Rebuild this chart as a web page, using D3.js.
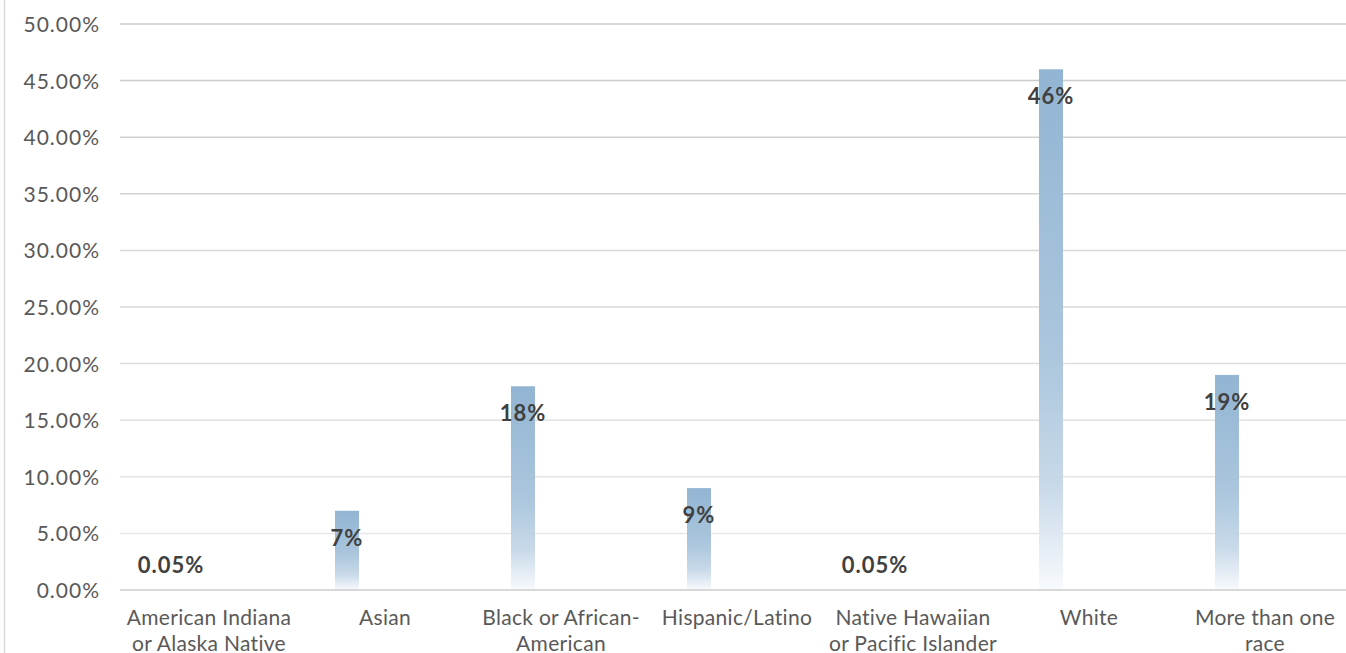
<!DOCTYPE html>
<html>
<head>
<meta charset="utf-8">
<script src="https://cdn.jsdelivr.net/npm/d3@7"></script>
<style>
  html, body { margin: 0; padding: 0; background: #fff; }
  svg { display: block; }
</style>
</head>
<body>
<div id="chart"></div>
<script>
// Data ///////////////////////////////////////////////
const categories = [
  "American Indiana or Alaska Native",
  "Asian",
  "Black or African-American",
  "Hispanic/Latino",
  "Native Hawaiian or Pacific Islander",
  "White",
  "More than one race"
];
const categoryLines = [
  ["American Indiana", "or Alaska Native"],
  ["Asian"],
  ["Black or African-", "American"],
  ["Hispanic/Latino"],
  ["Native Hawaiian", "or Pacific Islander"],
  ["White"],
  ["More than one", "race"]
];
const values = [0.0005, 0.07, 0.18, 0.09, 0.0005, 0.46, 0.19];
const valueLabels = ["0.05%", "7%", "18%", "9%", "0.05%", "46%", "19%"];
const yTicks = [0, 0.05, 0.1, 0.15, 0.2, 0.25, 0.3, 0.35, 0.4, 0.45, 0.5];

// Setup //////////////////////////////////////////////
const width = 1346;
const height = 653;
const font = "Lato, 'DejaVu Sans', sans-serif";

const svg = d3
  .select("#chart")
  .append("svg")
  .attr("width", width)
  .attr("height", height);

const defs = svg.append("defs");
const grad = defs
  .append("linearGradient")
  .attr("id", "barFill")
  .attr("x1", 0)
  .attr("y1", 0)
  .attr("x2", 0)
  .attr("y2", 1);
grad.append("stop").attr("offset", "0%").attr("stop-color", "#92b5d3");
grad.append("stop").attr("offset", "55%").attr("stop-color", "#abc6dd");
grad.append("stop").attr("offset", "80%").attr("stop-color", "#c8d9e9");
grad.append("stop").attr("offset", "100%").attr("stop-color", "#f8fafd");

// Scales /////////////////////////////////////////////
const x = d3.scaleBand().domain(categories).range([121, 1353]).padding(0);
const y = d3.scaleLinear().domain([0, 0.5]).range([590, 24]);
const barWidth = 24;
const barShift = -x.bandwidth() * 0.216; // bar sits left of the band centre

// left frame line
svg
  .append("line")
  .attr("x1", 4.5)
  .attr("x2", 4.5)
  .attr("y1", 0)
  .attr("y2", height)
  .attr("stroke", "#d9d9d9")
  .attr("stroke-width", 1.5);

// Gridlines //////////////////////////////////////////
const gridColor = d3.scaleLinear().domain([0.5, 0]).range(["#c9c9c9", "#ebebeb"]);
svg
  .append("g")
  .selectAll("line")
  .data(yTicks.filter(t => t > 0))
  .enter()
  .append("line")
  .attr("x1", 120)
  .attr("x2", width)
  .attr("y1", d => y(d))
  .attr("y2", d => y(d))
  .attr("stroke", d => gridColor(d))
  .attr("stroke-width", 1.5);

// Y axis labels
const yAxis = d3
  .axisLeft(y)
  .tickValues(yTicks)
  .tickFormat(d3.format(".2%"))
  .tickSize(0)
  .tickPadding(0);
const yG = svg
  .append("g")
  .attr("transform", "translate(100,0)")
  .call(yAxis);
yG.select(".domain").remove();
yG.selectAll("text")
  .attr("font-family", font)
  .attr("font-size", 21)
  .attr("letter-spacing", "1px")
  .attr("fill", "#595959")
  .attr("dy", "0.36em");

// Bars ///////////////////////////////////////////////
svg
  .append("g")
  .selectAll("rect")
  .data(values)
  .enter()
  .append("rect")
  .attr("x", (d, i) => x(categories[i]) + x.bandwidth() / 2 + barShift - barWidth / 2)
  .attr("y", d => y(d))
  .attr("width", barWidth)
  .attr("height", d => y(0) - y(d))
  .attr("fill", "url(#barFill)");

// axis baseline
svg
  .append("line")
  .attr("x1", 120)
  .attr("x2", width)
  .attr("y1", y(0))
  .attr("y2", y(0))
  .attr("stroke", "#d9d9d9")
  .attr("stroke-width", 2);

// Value labels
svg
  .append("g")
  .selectAll("text")
  .data(values)
  .enter()
  .append("text")
  .attr("x", (d, i) => x(categories[i]) + x.bandwidth() / 2 + barShift)
  .attr("y", d => Math.min(y(d) + 27, y(0) - 25))
  .attr("dy", "0.36em")
  .attr("text-anchor", "middle")
  .attr("font-family", font)
  .attr("font-size", 22)
  .attr("letter-spacing", "1px")
  .attr("font-weight", "bold")
  .attr("fill", "#404040")
  .text((d, i) => valueLabels[i]);

// Category labels
const catG = svg
  .append("g")
  .selectAll("text")
  .data(categories)
  .enter()
  .append("text")
  .attr("x", d => x(d) + x.bandwidth() / 2)
  .attr("y", 617)
  .attr("text-anchor", "middle")
  .attr("font-family", font)
  .attr("font-size", 21)
  .attr("letter-spacing", "0.3px")
  .attr("fill", "#595959");
catG
  .selectAll("tspan")
  .data((d, i) => categoryLines[i])
  .enter()
  .append("tspan")
  .attr("x", function() { return this.parentNode.getAttribute("x"); })
  .attr("dy", (d, i) => (i === 0 ? "0.36em" : "26px"))
  .text(d => d);
</script>
</body>
</html>
